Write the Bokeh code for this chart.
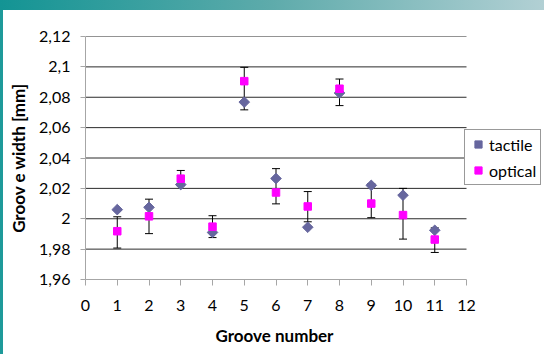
from bokeh.plotting import figure
from bokeh.models import (ColumnDataSource, Whisker, TeeHead, FixedTicker,
                          CustomJSTickFormatter, Legend, LegendItem, Title)
from bokeh.embed import file_html
from bokeh.resources import INLINE
import math

# ---- data ----
grooves = [1, 2, 3, 4, 5, 6, 7, 8, 9, 10, 11]
tactile = [2.0060, 2.0075, 2.0225, 1.9910, 2.0768, 2.0265, 1.9944, 2.0828, 2.0220, 2.0155, 1.9924]
optical = [1.9918, 2.0016, 2.0264, 1.9948, 2.0906, 2.0173, 2.0081, 2.0856, 2.0100, 2.0024, 1.9863]
err_low = [1.9807, 1.9902, 2.0218, 1.9876, 2.0717, 2.0098, 1.9980, 2.0745, 2.0007, 1.9866, 1.9778]
err_high = [2.0013, 2.0129, 2.0318, 2.0020, 2.0997, 2.0330, 2.0179, 2.0920, 2.0230, 2.0200, 1.9940]
x_ticks = [0, 1, 2, 3, 4, 5, 6, 7, 8, 9, 10, 11, 12]
y_ticks = [1.96, 1.98, 2.00, 2.02, 2.04, 2.06, 2.08, 2.10, 2.12]
grid_ticks = [1.98, 2.00, 2.02, 2.04, 2.06, 2.08, 2.10, 2.12]
x_title = "Groove number"
y_title = "Groov e width [mm]"

FONT = "Lato"

W, H = 544, 354
LEFT, RIGHT_AXIS_END, TOP, BOTTOM = 85, 466, 36, 281

src = ColumnDataSource(dict(x=grooves, tactile=tactile, optical=optical,
                            lo=err_low, hi=err_high))

x0, x1 = x_ticks[0], x_ticks[-1]
x_end = x0 + (x1 - x0) * (W - LEFT) / (RIGHT_AXIS_END - LEFT)

p = figure(width=W, height=H, x_range=(x0, x_end), y_range=(y_ticks[0], y_ticks[-1]),
           output_backend="svg", toolbar_location=None,
           min_border_left=LEFT, min_border_right=0,
           min_border_top=TOP, min_border_bottom=H - BOTTOM)

p.styles = {
    "background": "linear-gradient(to right, #139494, #5eabab 50%, #b2d0d4) 0 0 / 100% 10px no-repeat, "
                  "linear-gradient(#1e9a9a, #1e9a9a) 0 0 / 3px 100% no-repeat, #ffffff",
}
p.border_fill_color = None
p.background_fill_color = None
p.outline_line_color = None

# grid: horizontal lines only over the axis extent
p.xgrid.visible = False
p.ygrid.visible = False
p.segment(x0=[x0] * len(grid_ticks), x1=[x1] * len(grid_ticks),
          y0=grid_ticks, y1=grid_ticks, line_color="#2b2b2b", line_width=1,
          level="underlay")

# axes
fmt = CustomJSTickFormatter(code="return (Math.round(tick*100)/100).toString().replace('.', ',');")
p.yaxis.ticker = FixedTicker(ticks=y_ticks)
p.yaxis.formatter = fmt
p.xaxis.ticker = FixedTicker(ticks=x_ticks)
p.xaxis.bounds = (x0, x1)
for ax in (p.xaxis[0], p.yaxis[0]):
    ax.axis_line_color = "#a6a6a6"
    ax.major_tick_line_color = "#a6a6a6"
    ax.minor_tick_line_color = None
    ax.major_tick_in = 0
    ax.major_label_text_font = FONT
    ax.major_label_text_font_size = "16px"
    ax.major_label_text_color = "black"
    ax.axis_label_text_font = FONT
    ax.axis_label_text_font_size = "17px"
    ax.axis_label_text_font_style = "bold"
    ax.axis_label_text_color = "black"

p.xaxis.major_tick_out = 6
p.xaxis.major_label_standoff = 14

p.yaxis.major_tick_out = 5
p.yaxis.major_label_standoff = 10
p.yaxis.axis_label = y_title
p.yaxis.axis_label_standoff = 7

# x-axis title centred under the 0..12 axis extent
xt = Title(text=x_title, align="left", offset=130, standoff=18,
           text_font=FONT, text_font_size="17px", text_font_style="bold",
           text_color="black")
p.add_layout(xt, "below")

# error bars
wk = Whisker(base="x", lower="lo", upper="hi", source=src,
             line_color="black", line_width=1,
             upper_head=TeeHead(size=8, line_color="black", line_width=1),
             lower_head=TeeHead(size=8, line_color="black", line_width=1),
             level="underlay")
p.add_layout(wk)

# markers
r_t = p.scatter("x", "tactile", source=src, marker="square", angle=math.pi / 4,
                size=7.5, fill_color="#66669e", line_color="#66669e")
r_o = p.scatter("x", "optical", source=src, marker="square",
                size=7.5, fill_color="#ff00ff", line_color="#ff00ff")

legend = Legend(items=[LegendItem(label="tactile", renderers=[r_t]),
                       LegendItem(label="optical", renderers=[r_o])],
                location=(379, 94), orientation="vertical",
                label_text_font=FONT, label_text_font_size="16px",
                label_text_color="black",
                border_line_color="#333333", border_line_width=1,
                background_fill_color="white", background_fill_alpha=1,
                padding=4, spacing=6, margin=0,
                glyph_width=18, glyph_height=20, label_height=20,
                label_standoff=2)
p.add_layout(legend)

open("out.html", "w").write(file_html(p, INLINE))
